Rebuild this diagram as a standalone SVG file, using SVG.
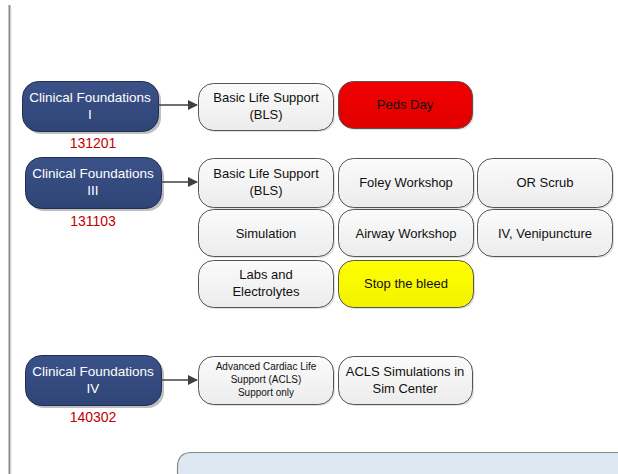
<svg xmlns="http://www.w3.org/2000/svg" width="618" height="474" viewBox="0 0 618 474">
<defs>
<linearGradient id="gBlue" x1="0" y1="0" x2="0" y2="1"><stop offset="0" stop-color="#3b5289"/><stop offset="1" stop-color="#2f4476"/></linearGradient>
<linearGradient id="gGray" x1="0" y1="0" x2="0" y2="1"><stop offset="0" stop-color="#fbfbfb"/><stop offset="1" stop-color="#ececec"/></linearGradient>
<linearGradient id="gRed" x1="0" y1="0" x2="0" y2="1"><stop offset="0" stop-color="#f20000"/><stop offset="1" stop-color="#e00000"/></linearGradient>
<linearGradient id="gYel" x1="0" y1="0" x2="0" y2="1"><stop offset="0" stop-color="#ffff00"/><stop offset="1" stop-color="#f2f200"/></linearGradient>
<marker id="ah" markerWidth="10" markerHeight="10" refX="9" refY="5" orient="auto" markerUnits="userSpaceOnUse"><path d="M0,0 L10,5 L0,10 Z" fill="#404040"/></marker>
</defs>
<style>
.cf rect.b{fill:url(#gBlue);stroke:#1f2d50;stroke-width:1}
.sh{fill:#000;opacity:0.25}
.cf text{fill:#fff;font-family:"Liberation Sans",Arial,sans-serif;font-size:13.5px;text-anchor:middle}
.cf text.code{fill:#c00000;font-size:14px}
.n rect.b{fill:url(#gGray);stroke:#555;stroke-width:1}
.n text{fill:#111;font-family:"Liberation Sans",Arial,sans-serif;font-size:13px;text-anchor:middle}
.n rect.s{fill:#000;opacity:0.12}
.conn line{stroke:#404040;stroke-width:1.5;marker-end:url(#ah)}
</style>
<line x1="9.5" y1="5" x2="9.5" y2="474" stroke="#8a8a8a" stroke-width="2"/>
<line x1="11" y1="8" x2="11" y2="474" stroke="#dddddd" stroke-width="1"/>

<g id="cf1" class="cf">
<rect class="sh" x="25" y="84" width="136" height="50" rx="16"/>
<rect class="b" x="22.5" y="81.5" width="136" height="50" rx="16"/>
<text x="90" y="102">Clinical Foundations</text>
<text x="90" y="119">I</text>
<text class="code" x="93" y="148">131201</text>
</g>
<g id="cf3" class="cf">
<rect class="sh" x="28" y="160" width="136" height="51" rx="16"/>
<rect class="b" x="25.5" y="157.5" width="136" height="51" rx="16"/>
<text x="93" y="178">Clinical Foundations</text>
<text x="93" y="195">III</text>
<text class="code" x="93" y="226">131103</text>
</g>
<g id="cf4" class="cf">
<rect class="sh" x="28" y="358" width="136" height="50" rx="16"/>
<rect class="b" x="25.5" y="355.5" width="136" height="50" rx="16"/>
<text x="93" y="376">Clinical Foundations</text>
<text x="93" y="393">IV</text>
<text class="code" x="93" y="422">140302</text>
</g>

<g id="bls1" class="n"><rect class="s" x="200" y="85" width="135" height="47" rx="15"/><rect class="b" x="198.5" y="83.5" width="135" height="47" rx="15"/><text x="266" y="102">Basic Life Support</text><text x="266" y="119">(BLS)</text></g>
<g id="peds" class="n"><rect class="s" x="340" y="83" width="134" height="47" rx="15"/><rect class="b" x="338.5" y="81.5" width="134" height="47" rx="15" style="fill:url(#gRed);stroke:#555"/><text x="405" y="109">Peds Day</text></g>

<g id="bls3" class="n"><rect class="s" x="200" y="160" width="135" height="49" rx="15"/><rect class="b" x="198.5" y="158.5" width="135" height="49" rx="15"/><text x="266" y="178">Basic Life Support</text><text x="266" y="195">(BLS)</text></g>
<g id="foley" class="n"><rect class="s" x="340" y="160" width="135" height="49" rx="15"/><rect class="b" x="338.5" y="158.5" width="135" height="49" rx="15"/><text x="406" y="187">Foley Workshop</text></g>
<g id="orscrub" class="n"><rect class="s" x="479" y="160" width="135" height="49" rx="15"/><rect class="b" x="477.5" y="158.5" width="135" height="49" rx="15"/><text x="545" y="187">OR Scrub</text></g>
<g id="sim" class="n"><rect class="s" x="200" y="211" width="135" height="47" rx="15"/><rect class="b" x="198.5" y="209.5" width="135" height="47" rx="15"/><text x="266" y="238">Simulation</text></g>
<g id="airway" class="n"><rect class="s" x="340" y="211" width="135" height="47" rx="15"/><rect class="b" x="338.5" y="209.5" width="135" height="47" rx="15"/><text x="406" y="238">Airway Workshop</text></g>
<g id="iv" class="n"><rect class="s" x="479" y="211" width="135" height="47" rx="15"/><rect class="b" x="477.5" y="209.5" width="135" height="47" rx="15"/><text x="545" y="238">IV, Venipuncture</text></g>
<g id="labs" class="n"><rect class="s" x="200" y="262" width="135" height="47" rx="15"/><rect class="b" x="198.5" y="260.5" width="135" height="47" rx="15"/><text x="266" y="279">Labs and</text><text x="266" y="296">Electrolytes</text></g>
<g id="bleed" class="n"><rect class="s" x="340" y="262" width="135" height="47" rx="15"/><rect class="b" x="338.5" y="260.5" width="135" height="47" rx="15" style="fill:url(#gYel);stroke:#555"/><text x="406" y="288">Stop the bleed</text></g>

<g id="acls" class="n"><rect class="s" x="200" y="358" width="135" height="48" rx="15"/><rect class="b" x="198.5" y="356.5" width="135" height="48" rx="15"/><text x="266" y="370" style="font-size:10px">Advanced Cardiac Life</text><text x="266" y="383" style="font-size:10px">Support (ACLS)</text><text x="266" y="396" style="font-size:10px">Support only</text></g>
<g id="aclssim" class="n"><rect class="s" x="340" y="358" width="134" height="48" rx="15"/><rect class="b" x="338.5" y="356.5" width="134" height="48" rx="15"/><text x="405" y="376">ACLS Simulations in</text><text x="405" y="393">Sim Center</text></g>

<g id="connectors" class="conn">
<line x1="158" y1="105" x2="197" y2="105"/>
<line x1="161" y1="182" x2="197" y2="182"/>
<line x1="161" y1="380" x2="197" y2="380"/>
</g>

<g id="note">
<path d="M177.5,475 L177.5,467 Q177.5,452.5 192,452.5 L619,452.5 L619,475 Z" fill="#dde8f3" stroke="#888" stroke-width="1.2"/>
</g>
</svg>
